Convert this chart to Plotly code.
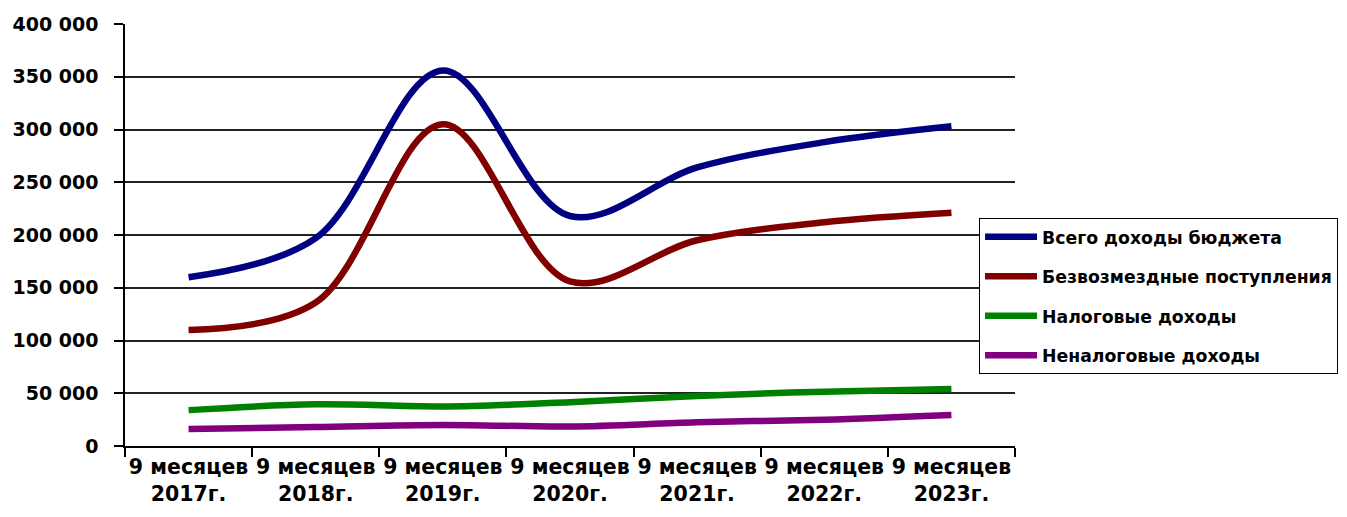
import plotly.graph_objects as go

categories = ["9 месяцев<br>2017г.", "9 месяцев<br>2018г.", "9 месяцев<br>2019г.",
              "9 месяцев<br>2020г.", "9 месяцев<br>2021г.", "9 месяцев<br>2022г.",
              "9 месяцев<br>2023г."]
total_income = [160000, 197000, 356000, 218000, 264000, 288000, 303000]
gratuitous = [110000, 136000, 305000, 156000, 195000, 212000, 221000]
tax_income = [34000, 39500, 37500, 41500, 47500, 51500, 54000]
nontax_income = [16000, 18000, 20000, 18500, 22500, 25000, 29500]

series_names = ["Всего доходы бюджета", "Безвозмездные поступления",
                "Налоговые доходы", "Неналоговые доходы"]
series_values = [total_income, gratuitous, tax_income, nontax_income]
series_colors = ["#000080", "#800000", "#008000", "#800080"]

FONT = "DejaVu Sans"

fig = go.Figure()
for name, vals, col in zip(series_names, series_values, series_colors):
    fig.add_trace(go.Scatter(
        x=categories, y=vals, name=name, mode="lines",
        line=dict(color=col, width=6.5, shape="spline", smoothing=1.0),
        legendgroup=name,
    ))

fig.update_layout(
    width=1339, height=509,
    margin=dict(l=117, r=332, t=16, b=71, autoexpand=False),
    paper_bgcolor="white", plot_bgcolor="white",
    separators=". ",
    showlegend=True,
    legend=dict(
        x=0.9596, y=0.540, xanchor="left", yanchor="top",
        bgcolor="white", bordercolor="black", borderwidth=1,
        font=dict(family=FONT, size=17.3, color="black", weight="bold"),
        tracegroupgap=14, itemwidth=52,
    ),
)
fig.update_xaxes(
    type="category", range=[-0.5, 6.5], tickson="boundaries",
    showgrid=False, showline=True, linecolor="black", linewidth=1.5,
    ticks="outside", ticklen=9, tickcolor="black", tickwidth=1.5,
    tickfont=dict(family=FONT, size=20.5, color="black", weight="bold"),
    tickangle=0, automargin=False, ticklabelstandoff=2,
)
fig.update_yaxes(
    range=[0, 400000], dtick=50000, tickformat=",d",
    showgrid=True, gridcolor="#222222", gridwidth=1.5,
    showline=True, linecolor="black", linewidth=1.5,
    ticks="outside", ticklen=9, tickcolor="black", tickwidth=1.5,
    tickfont=dict(family=FONT, size=19, color="black", weight="bold"),
    ticklabelstandoff=12, zeroline=False, automargin=False,
)

fig.write_html("out.html")
